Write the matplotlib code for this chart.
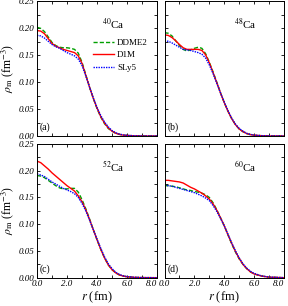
import matplotlib
matplotlib.use("Agg")
import matplotlib.pyplot as plt
from matplotlib.ticker import MultipleLocator, FormatStrFormatter

plt.rcParams['font.family'] = ['Liberation Serif', 'DejaVu Serif']
plt.rcParams['mathtext.fontset'] = 'stix'

# radial grid (fm)
r = [0.0, 0.25, 0.5, 0.75, 1.0, 1.25, 1.5, 1.75, 2.0, 2.25, 2.5, 2.75, 3.0,
     3.25, 3.5, 3.75, 4.0, 4.25, 4.5, 4.75, 5.0, 5.25, 5.5, 5.75, 6.0,
     6.5, 7.0, 8.0]

# 40Ca
ca40_ddme2 = [0.202, 0.200, 0.194, 0.184, 0.174, 0.168, 0.165, 0.164, 0.164, 0.163,
              0.161, 0.154, 0.137, 0.114, 0.091, 0.070, 0.051, 0.035, 0.023, 0.014,
              0.009, 0.005, 0.003, 0.0015, 0.001, 0.0003, 0.0, 0.0]
ca40_d1m = [0.196, 0.195, 0.190, 0.181, 0.172, 0.167, 0.164, 0.161, 0.159, 0.157,
            0.155, 0.149, 0.135, 0.113, 0.091, 0.070, 0.052, 0.036, 0.024, 0.015,
            0.009, 0.005, 0.003, 0.0015, 0.001, 0.0003, 0.0, 0.0]
ca40_sly5 = [0.187, 0.186, 0.182, 0.176, 0.170, 0.166, 0.163, 0.159, 0.155, 0.152,
             0.149, 0.143, 0.131, 0.112, 0.091, 0.071, 0.053, 0.038, 0.026, 0.017,
             0.010, 0.006, 0.0035, 0.002, 0.0012, 0.0004, 0.0001, 0.0]

# 48Ca
ca48_ddme2 = [0.192, 0.191, 0.186, 0.177, 0.168, 0.161, 0.158, 0.160, 0.163, 0.165,
              0.163, 0.153, 0.137, 0.119, 0.100, 0.080, 0.062, 0.046, 0.032, 0.021,
              0.013, 0.008, 0.0045, 0.0025, 0.0015, 0.0005, 0.0001, 0.0]
ca48_d1m = [0.188, 0.187, 0.183, 0.177, 0.170, 0.164, 0.161, 0.161, 0.161, 0.161,
            0.159, 0.151, 0.136, 0.118, 0.099, 0.080, 0.062, 0.046, 0.032, 0.021,
            0.013, 0.008, 0.0045, 0.0025, 0.0015, 0.0005, 0.0001, 0.0]
ca48_sly5 = [0.177, 0.176, 0.173, 0.169, 0.165, 0.161, 0.160, 0.159, 0.157, 0.155,
             0.152, 0.145, 0.132, 0.116, 0.098, 0.080, 0.063, 0.047, 0.033, 0.022,
             0.014, 0.009, 0.005, 0.003, 0.0017, 0.0006, 0.0002, 0.0]

# 52Ca
ca52_ddme2 = [0.191, 0.190, 0.187, 0.182, 0.177, 0.172, 0.168, 0.166, 0.166, 0.167,
              0.167, 0.160, 0.146, 0.129, 0.110, 0.090, 0.071, 0.053, 0.037, 0.024,
              0.015, 0.009, 0.005, 0.003, 0.0017, 0.0006, 0.0002, 0.0]
ca52_d1m = [0.218, 0.215, 0.209, 0.203, 0.196, 0.190, 0.184, 0.178, 0.172, 0.167,
            0.162, 0.153, 0.142, 0.127, 0.109, 0.090, 0.071, 0.053, 0.037, 0.024,
            0.015, 0.009, 0.005, 0.003, 0.0017, 0.0006, 0.0002, 0.0]
ca52_sly5 = [0.194, 0.192, 0.189, 0.184, 0.179, 0.175, 0.171, 0.167, 0.164, 0.161,
             0.157, 0.150, 0.139, 0.125, 0.108, 0.090, 0.072, 0.055, 0.039, 0.026,
             0.017, 0.010, 0.006, 0.0035, 0.002, 0.0007, 0.0002, 0.0]

# 60Ca
ca60_ddme2 = [0.172, 0.172, 0.171, 0.170, 0.168, 0.166, 0.164, 0.163, 0.161, 0.160,
              0.158, 0.155, 0.150, 0.140, 0.127, 0.112, 0.097, 0.080, 0.063, 0.048,
              0.035, 0.025, 0.017, 0.011, 0.007, 0.003, 0.001, 0.0]
ca60_d1m = [0.182, 0.182, 0.181, 0.180, 0.179, 0.177, 0.173, 0.169, 0.166, 0.162,
            0.158, 0.153, 0.147, 0.138, 0.126, 0.112, 0.097, 0.080, 0.064, 0.049,
            0.036, 0.025, 0.017, 0.011, 0.007, 0.003, 0.001, 0.0]
ca60_sly5 = [0.173, 0.172, 0.171, 0.169, 0.167, 0.165, 0.163, 0.161, 0.159, 0.156,
             0.153, 0.149, 0.144, 0.135, 0.124, 0.111, 0.097, 0.081, 0.065, 0.050,
             0.037, 0.026, 0.018, 0.012, 0.008, 0.0033, 0.0012, 0.0]

nuclei = ['$^{40}$Ca', '$^{48}$Ca', '$^{52}$Ca', '$^{60}$Ca']
panel_tags = ['(a)', '(b)', '(c)', '(d)']
series = [(ca40_ddme2, ca40_d1m, ca40_sly5),
          (ca48_ddme2, ca48_d1m, ca48_sly5),
          (ca52_ddme2, ca52_d1m, ca52_sly5),
          (ca60_ddme2, ca60_d1m, ca60_sly5)]
models = ['DDME2', 'D1M', 'SLy5']
xticks = [0.0, 2.0, 4.0, 6.0, 8.0]
xticklabels = ['0.0', '2.0', '4.0', '6.0', '8.0']

fig = plt.figure(figsize=(2.88, 3.06), dpi=100)
pos = [[0.1285, 0.5556, 0.4167, 0.4395],
       [0.5712, 0.5556, 0.4150, 0.4395],
       [0.1285, 0.0925, 0.4167, 0.4370],
       [0.5712, 0.0925, 0.4150, 0.4370]]
name_x = [0.54, 0.58, 0.54, 0.58]

for i in range(4):
    ax = fig.add_axes(pos[i])
    dd, d1, sl = series[i]
    ax.plot(r, dd, color='#00a000', ls=(0, (3, 1.5)), lw=1.0, label=models[0])
    ax.plot(r, d1, color='red', ls='-', lw=1.0, label=models[1])
    ax.plot(r, sl, color='blue', ls=(0, (1, 0.8)), lw=1.0, label=models[2])
    ax.set_xlim(0, 8)
    ax.set_ylim(0, 0.25)
    ax.set_xticks(xticks)
    ax.set_xticklabels(xticklabels, fontstyle='italic')
    ax.xaxis.set_minor_locator(MultipleLocator(1))
    ax.yaxis.set_major_locator(MultipleLocator(0.05))
    ax.yaxis.set_minor_locator(MultipleLocator(0.025))
    ax.yaxis.set_major_formatter(FormatStrFormatter('%.2f'))
    ax.tick_params(which='both', direction='in', top=True, right=True,
                   length=2.5, width=0.6, labelsize=6.5, pad=2)
    for lab in ax.get_yticklabels():
        lab.set_fontstyle('italic')
    for s in ax.spines.values():
        s.set_linewidth(0.7)
    if i in (1, 3):
        ax.tick_params(labelleft=False)
    else:
        ax.set_ylabel(r'$\rho_{\rm m}$ (fm$^{-3}$)', fontsize=8.5)
        ax.yaxis.set_label_coords(-0.175, 0.5)
    if i in (0, 1):
        ax.tick_params(labelbottom=False)
    else:
        ax.set_xlabel(r'$r$ (fm)', fontsize=9, labelpad=1)
        # last label sits left of its tick, as in the original
        ax.get_xticklabels()[-1].set_horizontalalignment('right')
    ax.text(name_x[i], 0.83, nuclei[i], transform=ax.transAxes,
            fontsize=8, va='center', ha='left')
    ax.text(0.025, 0.063, panel_tags[i], transform=ax.transAxes,
            fontsize=7, va='center', ha='left')
    if i == 0:
        ax.legend(loc='upper left', bbox_to_anchor=(0.41, 0.77), frameon=False,
                  fontsize=6.5, handlelength=2.4, handletextpad=0.3,
                  labelspacing=0.45, borderpad=0.2)

fig.savefig('out.png', dpi=100)
